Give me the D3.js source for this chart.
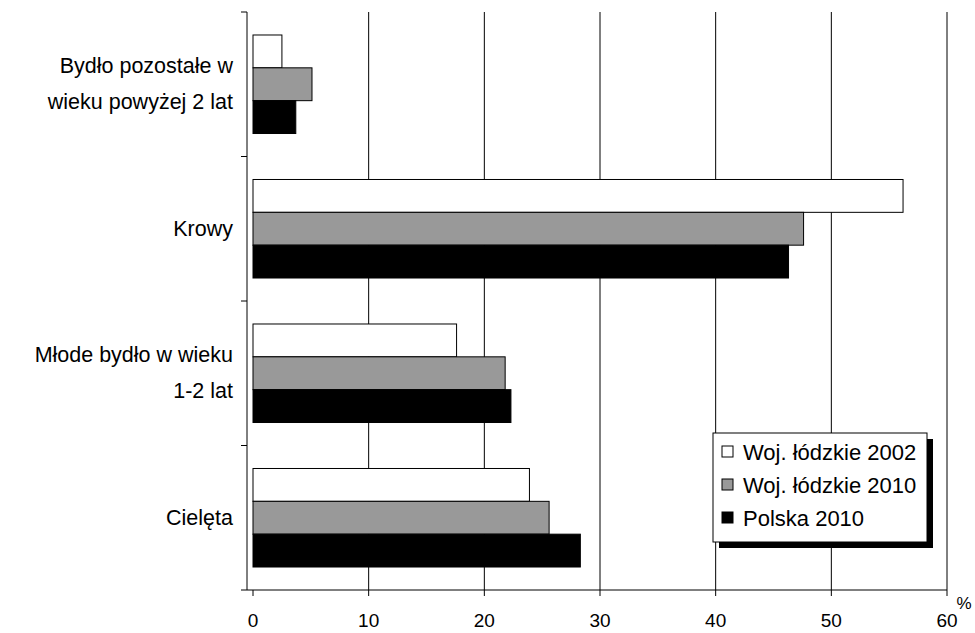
<!DOCTYPE html>
<html><head><meta charset="utf-8">
<script src="https://cdn.jsdelivr.net/npm/d3@7"></script>
<style>body{margin:0;background:#fff}text{font-family:"Liberation Sans",Arial,sans-serif;fill:#000}</style>
</head><body><div id="chart"></div>
<script>
// categories, top to bottom
var categories = [["Bydło pozostałe w","wieku powyżej 2 lat"],["Krowy"],["Młode bydło w wieku","1-2 lat"],["Cielęta"]];
var seriesNames = ["Woj. łódzkie 2002","Woj. łódzkie 2010","Polska 2010"];
var seriesColors = ["#ffffff","#999999","#000000"];
var woj2002 = [2.5, 56.2, 17.6, 23.9];
var woj2010 = [5.1, 47.6, 21.8, 25.6];
var polska2010 = [3.7, 46.3, 22.3, 28.3];
var xTicks = [0,10,20,30,40,50,60];

var series = [woj2002, woj2010, polska2010];

var svg = d3.select("#chart").append("svg").attr("width",975).attr("height",633);

var x = d3.scaleLinear().domain([0,60]).range([253,947]);
var y = d3.scaleBand().domain(d3.range(categories.length)).range([12,590]);
var yIn = d3.scaleBand().domain(d3.range(3)).range([0,y.bandwidth()]).paddingOuter(0.7);

// gridlines
svg.selectAll(".grid").data(xTicks.slice(1)).join("line")
    .attr("x1",d=>x(d)).attr("x2",d=>x(d)).attr("y1",12).attr("y2",590)
    .attr("stroke","#000").attr("stroke-width",1);

// bars
categories.forEach(function(c,i){
    series.forEach(function(s,j){
        svg.append("rect")
            .attr("x",x(0)).attr("y",y(i)+yIn(j))
            .attr("width",x(s[i])-x(0)).attr("height",yIn.bandwidth())
            .attr("fill",seriesColors[j]).attr("stroke","#000");
    });
});

// y axis
svg.append("line").attr("x1",247).attr("x2",247).attr("y1",12).attr("y2",590).attr("stroke","#000");
svg.selectAll(".ytick").data(d3.range(categories.length+1)).join("line")
    .attr("x1",241).attr("x2",247)
    .attr("y1",d=>12+d*y.step()).attr("y2",d=>12+d*y.step()).attr("stroke","#000");

categories.forEach(function(lines,i){
    var cy = y(i)+y.bandwidth()/2;
    var t = svg.append("text").attr("text-anchor","end").attr("font-size",21.5);
    lines.forEach(function(l,k){
        t.append("tspan").attr("x",233).attr("y",cy+7+(k-(lines.length-1)/2)*36).text(l);
    });
});

// x axis
svg.append("line").attr("x1",247).attr("x2",947).attr("y1",590).attr("y2",590).attr("stroke","#000");
svg.selectAll(".xtick").data(xTicks).join("line")
    .attr("x1",d=>x(d)).attr("x2",d=>x(d)).attr("y1",590).attr("y2",596).attr("stroke","#000");
svg.selectAll(".xlab").data(xTicks).join("text")
    .attr("x",d=>x(d)).attr("y",627).attr("text-anchor","middle").attr("font-size",19).text(d=>d);
svg.append("text").attr("x",964).attr("y",609).attr("text-anchor","middle").attr("font-size",17).text("%");

// legend
var lg = svg.append("g");
lg.append("rect").attr("x",719).attr("y",439).attr("width",214).attr("height",109).attr("fill","#000");
lg.append("rect").attr("x",713).attr("y",433).attr("width",214).attr("height",109).attr("fill","#fff").attr("stroke","#000");
seriesNames.forEach(function(n,j){
    var ly = 452+j*33;
    lg.append("rect").attr("x",722).attr("y",ly-6).attr("width",11).attr("height",11)
        .attr("fill",seriesColors[j]).attr("stroke","#000");
    lg.append("text").attr("x",743).attr("y",ly+8).attr("font-size",22).text(n);
});
</script></body></html>
